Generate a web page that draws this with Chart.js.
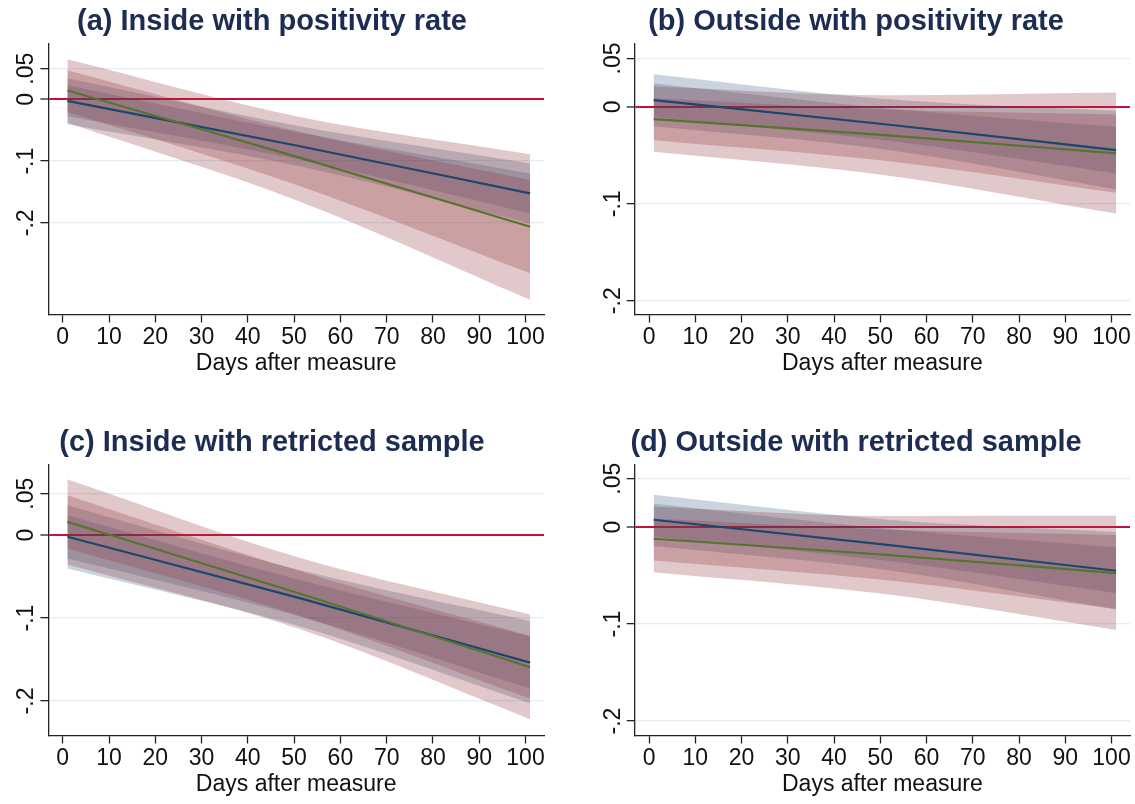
<!DOCTYPE html>
<html lang="en">
<head>
<meta charset="utf-8">
<title>Days after measure</title>
<script src="https://cdn.jsdelivr.net/npm/chart.js@4.4.1/dist/chart.umd.min.js"></script>
<style>
    html, body { margin: 0; background: #fff; }
    body { position: relative; width: 1135px; height: 804px; overflow: hidden; }
    canvas { position: absolute; }
</style>
</head>
<body>
<canvas id="painelA" width="546" height="383" style="left:0;top:0"></canvas>
<canvas id="painelB" width="550" height="383" style="left:582px;top:0"></canvas>
<canvas id="painelC" width="546" height="383" style="left:0;top:421px"></canvas>
<canvas id="painelD" width="550" height="383" style="left:582px;top:421px"></canvas>
<script>
// predicted effect by days after the measure, two estimates with a wide and a narrow band each
const days = [1, 51, 101];
const xTicks = [0, 10, 20, 30, 40, 50, 60, 70, 80, 90, 100];
const yTicks = [-0.2, -0.1, 0, 0.05];
const yTickLabels = ['-.2', '-.1', '0', '.05'];

// (a) inside, positivity rate
const aBlue = [-0.0023, -0.0755, -0.1523];
const aBlueWideLo = [-0.0400, -0.1080, -0.2010];
const aBlueWideHi = [0.0345, -0.0430, -0.1037];
const aBlueNarrowLo = [-0.0271, -0.0975, -0.1848];
const aBlueNarrowHi = [0.0232, -0.0535, -0.1199];
const aGreen = [0.0146, -0.0940, -0.2065];
const aGreenWideLo = [-0.0379, -0.1650, -0.3250];
const aGreenWideHi = [0.0653, -0.0280, -0.0887];
const aGreenNarrowLo = [-0.0201, -0.1400, -0.2820];
const aGreenNarrowHi = [0.0475, -0.0520, -0.1308];

// (b) outside, positivity rate
const bBlue = [0.0069, -0.0179, -0.0446];
const bBlueWideLo = [-0.0200, -0.0439, -0.0851];
const bBlueWideHi = [0.0337, 0.0081, -0.0041];
const bBlueNarrowLo = [-0.0103, -0.0345, -0.0686];
const bBlueNarrowHi = [0.0241, -0.0013, -0.0206];
const bGreen = [-0.0127, -0.0292, -0.0480];
const bGreenWideLo = [-0.0464, -0.0704, -0.1100];
const bGreenWideHi = [0.0210, 0.0120, 0.0148];
const bGreenNarrowLo = [-0.0343, -0.0556, -0.0887];
const bGreenNarrowHi = [0.0089, -0.0028, -0.0078];

// (c) inside, restricted sample
const cBlue = [-0.0020, -0.0757, -0.1538];
const cBlueWideLo = [-0.0401, -0.1097, -0.2030];
const cBlueWideHi = [0.0361, -0.0417, -0.1036];
const cBlueNarrowLo = [-0.0281, -0.0977, -0.1850];
const cBlueNarrowHi = [0.0241, -0.0537, -0.1220];
const cGreen = [0.0160, -0.0700, -0.1594];
const cGreenWideLo = [-0.0355, -0.1130, -0.2219];
const cGreenWideHi = [0.0675, -0.0270, -0.0956];
const cGreenNarrowLo = [-0.0162, -0.0970, -0.1973];
const cGreenNarrowHi = [0.0482, -0.0430, -0.1215];

// (d) outside, restricted sample
const dBlue = [0.0076, -0.0180, -0.0450];
const dBlueWideLo = [-0.0195, -0.0440, -0.0850];
const dBlueWideHi = [0.0333, 0.0080, -0.0050];
const dBlueNarrowLo = [-0.0100, -0.0345, -0.0680];
const dBlueNarrowHi = [0.0240, -0.0015, -0.0210];
const dGreen = [-0.0120, -0.0285, -0.0474];
const dGreenWideLo = [-0.0464, -0.0690, -0.1060];
const dGreenWideHi = [0.0210, 0.0115, 0.0117];
const dGreenNarrowLo = [-0.0344, -0.0545, -0.0845];
const dGreenNarrowHi = [0.0090, -0.0025, -0.0080];

const FONTE = '"Liberation Sans", Arial, Helvetica, sans-serif';
const COR_AZUL = '#1a476f';
const COR_VERDE = '#55752f';
const FAIXA_AZUL = 'rgba(26, 71, 111, 0.23)';
const FAIXA_VERMELHA = 'rgba(144, 53, 59, 0.27)';

// y labels are written sideways, reading upwards
const rotuloVertical = {
    id: 'rotuloVertical',
    afterDraw(chart) {
        const escala = chart.scales.y;
        const ctx = chart.ctx;
        ctx.save();
        ctx.font = `23px ${FONTE}`;
        ctx.fillStyle = '#111';
        ctx.textAlign = 'center';
        ctx.textBaseline = 'alphabetic';
        escala.ticks.forEach(tick => {
            const texto = yTickLabels[yTicks.indexOf(tick.value)];
            ctx.save();
            ctx.translate(escala.right - 15, escala.getPixelForValue(tick.value));
            ctx.rotate(-Math.PI / 2);
            ctx.fillText(texto, 0, 0);
            ctx.restore();
        });
        ctx.restore();
    },
};

class PainelMargens {
    constructor(config) {
        this.config = config;
    }

    pontos(valores) {
        return days.map((dia, i) => ({ x: dia, y: valores[i] }));
    }

    faixa(baixo, alto, cor, ordem) {
        const base = {
            borderWidth: 0,
            borderColor: 'rgba(0,0,0,0)',
            pointRadius: 0,
            cubicInterpolationMode: 'monotone',
            order: ordem,
        };
        return [
            { ...base, data: this.pontos(baixo), fill: false },
            { ...base, data: this.pontos(alto), fill: '-1', backgroundColor: cor },
        ];
    }

    linha(valores, cor) {
        return {
            data: this.pontos(valores),
            borderColor: cor,
            borderWidth: 2.2,
            pointRadius: 0,
            fill: false,
            cubicInterpolationMode: 'monotone',
            order: 0,
        };
    }

    renderizar() {
        const c = this.config;
        const fonteEixo = { family: FONTE, size: 23 };

        new Chart(document.getElementById(c.canvas), {
            type: 'line',
            data: {
                datasets: [
                    this.linha(c.verde, COR_VERDE),
                    this.linha(c.azul, COR_AZUL),
                    ...this.faixa(c.verdeLargaLo, c.verdeLargaHi, FAIXA_VERMELHA, 1),
                    ...this.faixa(c.verdeEstreitaLo, c.verdeEstreitaHi, FAIXA_VERMELHA, 1),
                    ...this.faixa(c.azulLargaLo, c.azulLargaHi, FAIXA_AZUL, 2),
                    ...this.faixa(c.azulEstreitaLo, c.azulEstreitaHi, FAIXA_AZUL, 2),
                ],
            },
            options: {
                responsive: false,
                animation: false,
                layout: { padding: { right: 2 } },
                plugins: {
                    legend: { display: false },
                    tooltip: { enabled: false },
                    title: {
                        display: true,
                        text: c.titulo,
                        color: '#1d2c52',
                        font: { family: FONTE, size: 29, weight: 'bold' },
                        padding: { top: 5, bottom: 4 },
                    },
                },
                scales: {
                    x: {
                        type: 'linear',
                        min: -3.1,
                        max: 104,
                        afterBuildTicks: escala => { escala.ticks = xTicks.map(value => ({ value })); },
                        afterFit: escala => { escala.height = 68.5; },
                        ticks: { font: fonteEixo, color: '#111', padding: 1, maxRotation: 0, autoSkip: false },
                        grid: { drawOnChartArea: false, tickLength: 8, tickColor: '#222', tickWidth: 1.3 },
                        border: { color: '#222', width: 1.3 },
                        title: {
                            display: true,
                            text: 'Days after measure',
                            font: fonteEixo,
                            color: '#111',
                            padding: { top: 0, bottom: 6 },
                        },
                    },
                    y: {
                        min: c.yMin,
                        max: c.yMax,
                        afterBuildTicks: escala => { escala.ticks = yTicks.map(value => ({ value })); },
                        afterFit: escala => { escala.width = c.larguraEixoY; },
                        ticks: { display: false },
                        grid: {
                            color: ctx => ctx.tick && ctx.tick.value === 0 ? '#c8103c' : '#e4edf0',
                            lineWidth: ctx => ctx.tick && ctx.tick.value === 0 ? 2 : 1.3,
                            tickLength: 8,
                            tickColor: '#222',
                            tickWidth: 1.3,
                        },
                        border: { color: '#222', width: 1.3 },
                    },
                },
            },
            plugins: [rotuloVertical],
        });
    }
}

const paineis = [
    {
        canvas: 'painelA', titulo: '(a) Inside with positivity rate',
        yMin: -0.3488, yMax: 0.0903, larguraEixoY: 48.4,
        azul: aBlue, azulLargaLo: aBlueWideLo, azulLargaHi: aBlueWideHi,
        azulEstreitaLo: aBlueNarrowLo, azulEstreitaHi: aBlueNarrowHi,
        verde: aGreen, verdeLargaLo: aGreenWideLo, verdeLargaHi: aGreenWideHi,
        verdeEstreitaLo: aGreenNarrowLo, verdeEstreitaHi: aGreenNarrowHi,
    },
    {
        canvas: 'painelB', titulo: '(b) Outside with positivity rate',
        yMin: -0.2142, yMax: 0.0651, larguraEixoY: 52.7,
        azul: bBlue, azulLargaLo: bBlueWideLo, azulLargaHi: bBlueWideHi,
        azulEstreitaLo: bBlueNarrowLo, azulEstreitaHi: bBlueNarrowHi,
        verde: bGreen, verdeLargaLo: bGreenWideLo, verdeLargaHi: bGreenWideHi,
        verdeEstreitaLo: bGreenNarrowLo, verdeEstreitaHi: bGreenNarrowHi,
    },
    {
        canvas: 'painelC', titulo: '(c) Inside with retricted sample',
        yMin: -0.2416, yMax: 0.0848, larguraEixoY: 48.4,
        azul: cBlue, azulLargaLo: cBlueWideLo, azulLargaHi: cBlueWideHi,
        azulEstreitaLo: cBlueNarrowLo, azulEstreitaHi: cBlueNarrowHi,
        verde: cGreen, verdeLargaLo: cGreenWideLo, verdeLargaHi: cGreenWideHi,
        verdeEstreitaLo: cGreenNarrowLo, verdeEstreitaHi: cGreenNarrowHi,
    },
    {
        canvas: 'painelD', titulo: '(d) Outside with retricted sample',
        yMin: -0.2149, yMax: 0.0643, larguraEixoY: 52.7,
        azul: dBlue, azulLargaLo: dBlueWideLo, azulLargaHi: dBlueWideHi,
        azulEstreitaLo: dBlueNarrowLo, azulEstreitaHi: dBlueNarrowHi,
        verde: dGreen, verdeLargaLo: dGreenWideLo, verdeLargaHi: dGreenWideHi,
        verdeEstreitaLo: dGreenNarrowLo, verdeEstreitaHi: dGreenNarrowHi,
    },
];

paineis.forEach(config => new PainelMargens(config).renderizar());
</script>
</body>
</html>
